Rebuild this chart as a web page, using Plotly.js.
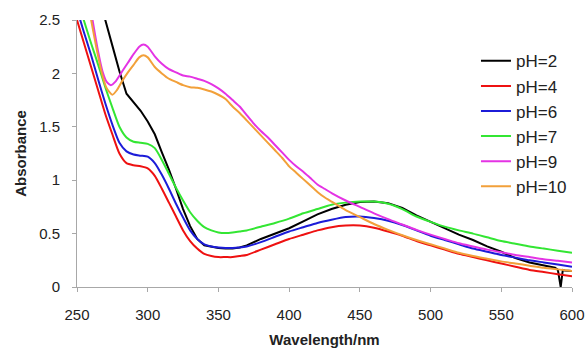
<!DOCTYPE html>
<html>
<head>
<meta charset="utf-8">
<script src="https://cdn.plot.ly/plotly-3.0.1.min.js"></script>
<style>
html,body{margin:0;padding:0;background:#fff;}
#chart{width:588px;height:348px;}
</style>
</head>
<body>
<div id="chart"></div>
<script>
// Shared wavelength grid (nm) for pH=4, 6, 7
var wlGrid = [250,255,260,265,270,275,280,285,290,295,300,305,310,315,320,325,330,335,340,345,350,355,360,365,370,380,390,400,410,420,430,440,450,460,470,480,490,500,510,520,530,540,550,560,570,580,590,600];

var wl_pH2 = [268,270,275,280,285,290,295,300,305,310,315,320,325,330,335,340,345,350,355,360,365,370,380,390,400,410,420,430,440,450,460,470,480,490,500,510,520,530,540,550,560,570,580,588,590,592,593.5,595,600];
var abs_pH2 = [2.62,2.50,2.26,2.02,1.81,1.73,1.65,1.55,1.43,1.26,1.10,0.92,0.73,0.57,0.45,0.39,0.375,0.365,0.36,0.36,0.37,0.39,0.45,0.50,0.55,0.615,0.68,0.73,0.77,0.795,0.80,0.785,0.74,0.67,0.61,0.55,0.49,0.44,0.38,0.33,0.27,0.23,0.20,0.18,0.16,0.0,0.16,0.155,0.15];

var abs_pH4 = [2.5,2.28,2.06,1.84,1.62,1.43,1.25,1.16,1.14,1.13,1.11,1.04,0.92,0.79,0.66,0.53,0.43,0.36,0.31,0.29,0.28,0.28,0.28,0.29,0.30,0.35,0.40,0.45,0.49,0.53,0.56,0.575,0.575,0.555,0.52,0.48,0.43,0.39,0.35,0.31,0.28,0.25,0.22,0.19,0.16,0.14,0.12,0.10];

var abs_pH6 = [2.6,2.38,2.17,1.94,1.72,1.52,1.35,1.27,1.24,1.23,1.22,1.16,1.05,0.92,0.78,0.65,0.53,0.45,0.40,0.38,0.37,0.365,0.365,0.37,0.38,0.42,0.47,0.52,0.56,0.60,0.63,0.655,0.66,0.645,0.62,0.58,0.53,0.48,0.44,0.40,0.36,0.33,0.30,0.275,0.25,0.23,0.21,0.19];

var abs_pH7 = [2.7,2.49,2.28,2.08,1.87,1.68,1.50,1.40,1.36,1.35,1.34,1.30,1.19,1.06,0.93,0.81,0.70,0.62,0.56,0.53,0.51,0.505,0.51,0.52,0.53,0.565,0.60,0.64,0.69,0.73,0.77,0.79,0.80,0.80,0.78,0.73,0.66,0.61,0.565,0.53,0.50,0.465,0.43,0.405,0.38,0.36,0.34,0.32];

var wl_pH9 = [258,261,265,268,271,274,277,282,286,290,294,297,300,305,310,315,320,325,330,335,340,345,350,355,360,365,370,375,380,385,390,395,400,405,410,415,420,425,430,440,450,460,470,480,490,500,510,520,530,540,550,560,570,580,590,600];
var abs_pH9 = [2.75,2.5,2.2,2.02,1.92,1.89,1.92,2.02,2.10,2.18,2.25,2.27,2.25,2.16,2.09,2.04,2.01,1.98,1.97,1.95,1.93,1.90,1.86,1.81,1.75,1.69,1.61,1.53,1.46,1.40,1.33,1.26,1.19,1.13,1.08,1.02,0.96,0.92,0.88,0.81,0.75,0.69,0.635,0.585,0.535,0.49,0.45,0.41,0.38,0.35,0.325,0.30,0.28,0.26,0.245,0.23];

var wl_pH10 = [258,260,264,268,271,275,278,282,286,290,294,297,300,305,310,315,320,325,330,335,340,345,350,355,360,365,370,375,380,385,390,395,400,405,410,415,420,425,430,435,440,450,460,470,480,490,500,510,520,530,540,550,560,570,580,590,600];
var abs_pH10 = [2.65,2.5,2.22,1.98,1.86,1.80,1.84,1.93,2.01,2.08,2.15,2.17,2.15,2.06,2.0,1.95,1.92,1.89,1.87,1.865,1.85,1.83,1.80,1.76,1.69,1.63,1.56,1.49,1.42,1.35,1.28,1.21,1.13,1.07,1.01,0.95,0.89,0.84,0.80,0.76,0.72,0.655,0.59,0.535,0.485,0.44,0.40,0.36,0.32,0.29,0.265,0.24,0.22,0.20,0.18,0.165,0.15];

var seriesNames = ["pH=2","pH=4","pH=6","pH=7","pH=9","pH=10"];
var xTicks = [250,300,350,400,450,500,550,600];
var yTicks = [0,0.5,1,1.5,2,2.5];
var yTickText = ['0','0.5','1','1.5','2','2.5'];

var colors = ["#000000","#ee1111","#1c1cd8","#33e633","#e433e4","#f2a03a"];
var xs = [wl_pH2, wlGrid, wlGrid, wlGrid, wl_pH9, wl_pH10];
var ys = [abs_pH2, abs_pH4, abs_pH6, abs_pH7, abs_pH9, abs_pH10];

var traces = seriesNames.map(function(n,i){
  return {x: xs[i], y: ys[i], name: n, type: 'scatter', mode: 'lines',
    line: {color: colors[i], width: 2, shape: i===0 ? 'linear' : 'spline', smoothing: 0.6}};
});

var fam = 'Liberation Sans, Arial, sans-serif';
var font = {family: fam, size: 15, color: '#222'};
var layout = {
  width: 588, height: 348,
  margin: {l: 77, r: 16, t: 20, b: 61},
  paper_bgcolor: '#fff', plot_bgcolor: '#fff',
  font: font,
  showlegend: true,
  legend: {x: 0.806, y: 0.913, xanchor: 'left', yanchor: 'top', bgcolor: 'rgba(0,0,0,0)',
    font: {family: fam, size: 17, color: '#222'}},
  xaxis: {range: [250,600], tickvals: xTicks, ticktext: xTicks.map(String), showgrid: false, zeroline: false,
    showline: true, linecolor: '#a8a8a8', linewidth: 1, ticks: 'outside', ticklen: 4, tickcolor: '#a8a8a8',
    tickfont: font, ticklabelstandoff: 10,
    title: {text: '<b>Wavelength/nm</b>', font: {family: fam, size: 15, color: '#222'}, standoff: 15}},
  yaxis: {range: [0,2.5], tickvals: yTicks, ticktext: yTickText, showgrid: false, zeroline: false,
    showline: true, linecolor: '#a8a8a8', linewidth: 1, ticks: 'outside', ticklen: 4, tickcolor: '#a8a8a8',
    tickfont: font, ticklabelstandoff: 9,
    title: {text: '<b>Absorbance</b>', font: {family: fam, size: 15, color: '#222'}, standoff: 8}}
};
Plotly.newPlot('chart', traces, layout, {displayModeBar: false, staticPlot: true});
</script>
</body>
</html>
